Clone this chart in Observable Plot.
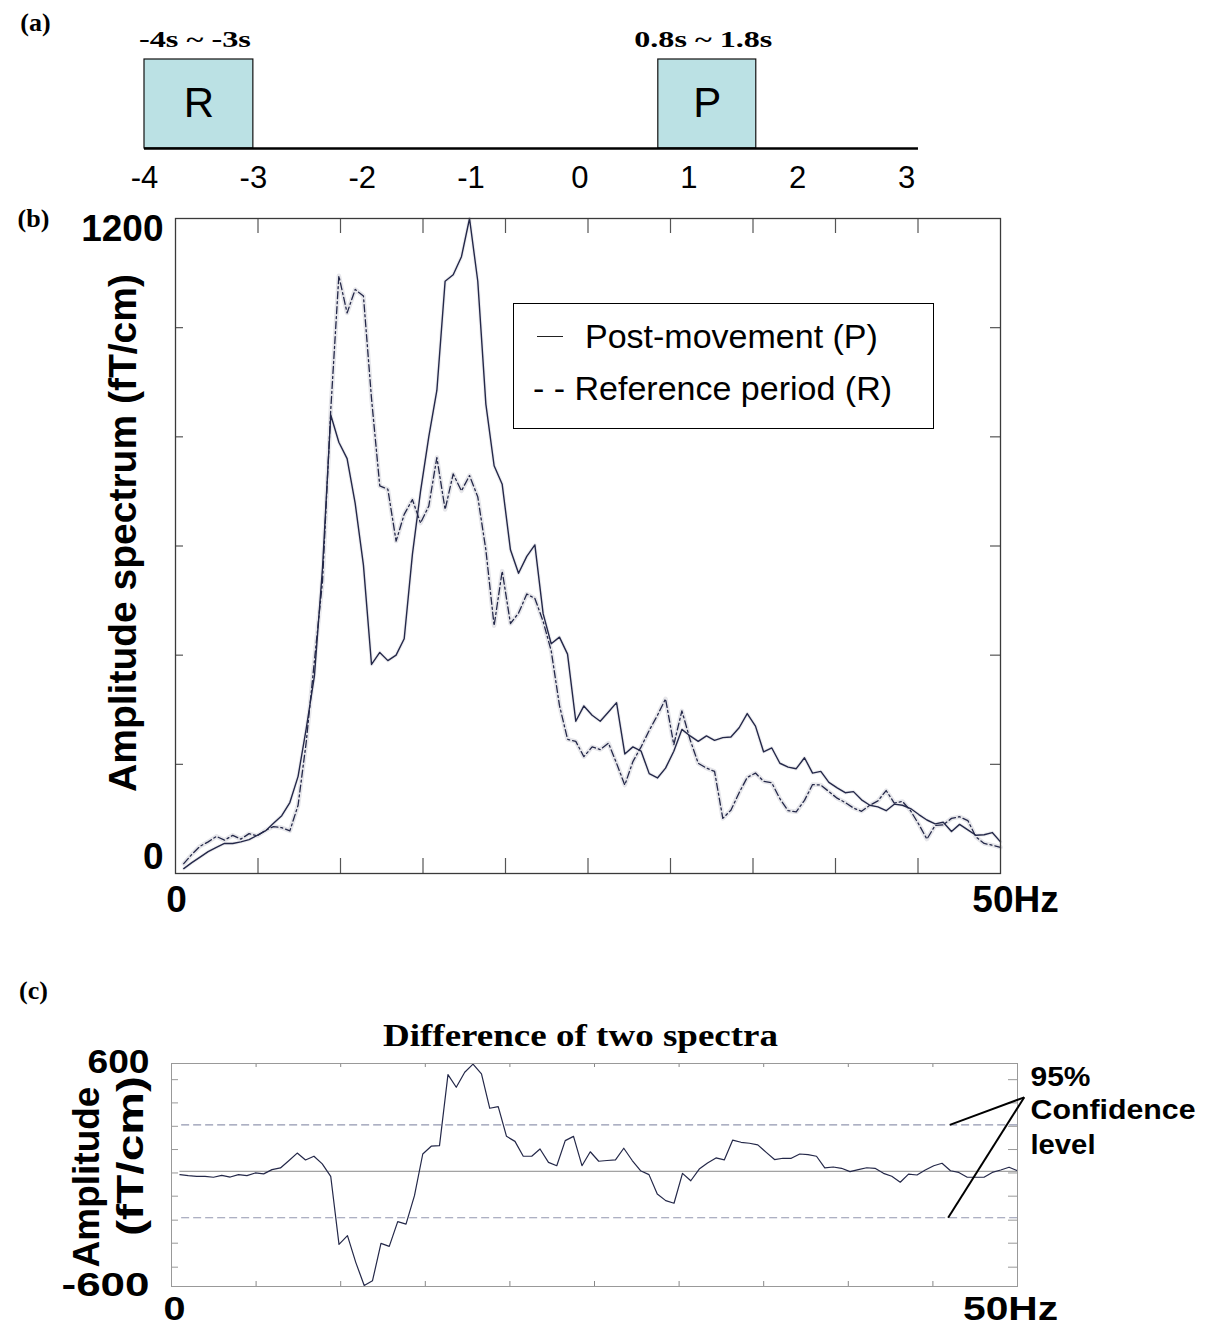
<!DOCTYPE html>
<html>
<head>
<meta charset="utf-8">
<script src="https://cdn.jsdelivr.net/npm/d3@7"></script>
<script src="https://cdn.jsdelivr.net/npm/@observablehq/plot@0.6"></script>
<style>
  body { margin: 0; background: #fff; }
  #fig { position: relative; width: 1205px; height: 1327px; overflow: hidden; background: #fff; }
  #fig svg { display: block; }
  #legend { position: absolute; left: 513px; top: 303px; width: 421px; height: 126px;
            border: 1.6px solid #000; box-sizing: border-box; background: #fff;
            font-family: 'Liberation Sans', Arial, sans-serif; font-size: 34px; color: #000; }
  #legend .row { position: absolute; white-space: nowrap; line-height: 34px; }
  #legend .swatch { position: absolute; height: 0; border-top: 1.3px solid #222; }
</style>
</head>
<body>
<div id="fig"></div>
<script>
// ---------- Panel (a): time windows ----------
const timeTicks = [-4, -3, -2, -1, 0, 1, 2, 3];
const timelineExtent = [-4, 3.11];
const periodNames = ["R", "P"];
const periodStart = [-4, 0.72];
const periodEnd = [-3, 1.62];
const periodLabels = ["-4s ~ -3s", "0.8s ~ 1.8s"];

// ---------- Panel (b): amplitude spectra ----------
const freq = [
  0.5, 0.99, 1.49, 1.98, 2.48, 2.97, 3.47, 3.96, 4.46, 4.95,
  5.45, 5.94, 6.44, 6.93, 7.43, 7.92, 8.42, 8.91, 9.41, 9.9,
  10.4, 10.89, 11.39, 11.88, 12.38, 12.87, 13.37, 13.86, 14.36, 14.85,
  15.35, 15.84, 16.34, 16.83, 17.33, 17.82, 18.32, 18.81, 19.31, 19.8,
  20.3, 20.79, 21.29, 21.78, 22.28, 22.77, 23.27, 23.76, 24.26, 24.75,
  25.25, 25.74, 26.24, 26.73, 27.23, 27.72, 28.22, 28.71, 29.21, 29.7,
  30.2, 30.69, 31.19, 31.68, 32.18, 32.67, 33.17, 33.66, 34.16, 34.65,
  35.15, 35.64, 36.14, 36.63, 37.13, 37.62, 38.12, 38.61, 39.11, 39.6,
  40.1, 40.59, 41.09, 41.58, 42.08, 42.57, 43.07, 43.56, 44.06, 44.55,
  45.05, 45.54, 46.04, 46.53, 47.03, 47.52, 48.02, 48.51, 49.01, 49.5,
  50.0
];
const postMovement = [
  9, 20, 30, 40, 48, 55, 55, 58, 62, 70,
  78, 92, 106, 130, 178, 265, 362, 560, 840, 790,
  760, 678, 565, 383, 405, 390, 400, 430, 585, 700,
  800, 885, 1085, 1097, 1130, 1200, 1085, 860, 747, 713,
  593, 550, 581, 602, 476, 421, 433, 402, 279, 307,
  290, 279, 296, 313, 219, 232, 224, 183, 175, 193,
  224, 264, 252, 242, 252, 244, 249, 250, 267, 293,
  270, 223, 230, 202, 195, 192, 212, 184, 187, 167,
  157, 148, 150, 135, 125, 122, 115, 127, 125, 119,
  108, 98, 91, 94, 77, 90, 80, 70, 71, 75,
  58
];
const referencePeriod = [
  18, 35, 50, 58, 68, 61, 70, 63, 73, 69,
  79, 86, 84, 78, 125, 240, 390, 535, 850, 1095,
  1027, 1070, 1058, 870, 710, 704, 609, 658, 685, 642,
  673, 762, 667, 732, 701, 729, 690, 593, 454, 554,
  458, 477, 512, 504, 462, 408, 308, 246, 242, 214,
  232, 227, 239, 202, 162, 205, 232, 262, 290, 320,
  236, 298, 245, 202, 193, 187, 101, 116, 148, 176,
  184, 169, 166, 137, 115, 113, 134, 163, 162, 150,
  138, 130, 120, 114, 125, 133, 152, 129, 132, 115,
  90, 63, 88, 89, 101, 104, 97, 67, 55, 52,
  48
];
const freqTicks = [5, 10, 15, 20, 25, 30, 35, 40, 45];
const specTicks = [200, 400, 600, 800, 1000];
const legendLabels = ["Post-movement (P)", "Reference period (R)"];

// ---------- Panel (c): difference ----------
const difference = [
  -18, -23, -27, -27, -32, -22, -31, -18, -23, -9,
  -14, 9, 18, 57, 98, 61, 81, 40, -27, -393,
  -346, -490, -615, -589, -388, -404, -271, -284, -131, 93,
  135, 138, 520, 452, 533, 577, 524, 339, 348, 188,
  161, 81, 81, 120, 48, 30, 165, 188, 30, 105,
  54, 58, 61, 124, 58, 3, -18, -122, -158, -172,
  -11, -51, 12, 45, 72, 61, 168, 156, 151, 142,
  102, 63, 70, 70, 93, 90, 81, 18, 23, 16,
  -2, 9, 19, 16, -11, -27, -59, -15, -20, 7,
  30, 43, 3, -6, -32, -32, -32, -6, 7, 22,
  3
];
const diffTicks = [-516, -387, -263, -134, -9, 117, 242, 368, 493];
const confidence = [250, -250];
const confidenceSpan = [0.6, 50];
const zeroSpan = [0.5, 50];
const diffEndValues = [580, -620];
const diffEndLabels = ["600", "-600"];
const confidenceLines = ["95%", "Confidence", "level"];
const pointerLinks = [
  {x1: 50.4, y1: 398, x2: 46.0, y2: 250},
  {x1: 50.4, y1: 398, x2: 45.9, y2: -250}
];

const SANS = "'Liberation Sans', Arial, Helvetica, sans-serif";
const SERIF = "'Liberation Serif', 'Times New Roman', Times, serif";
const INK = "#242849";
const BOLD = {fontWeight: "bold", fill: "#000"};

const fig = document.getElementById("fig");

// widen texts of a described mark to given widths (the source figure's type is stretched)
function stretch(svg, tag, widths) {
  d3.select(svg).selectAll(`g[aria-description="${tag}"] text`).each(function (_, i) {
    const w = Array.isArray(widths) ? widths[i] : widths;
    if (w) d3.select(this).attr("textLength", w).attr("lengthAdjust", "spacingAndGlyphs");
  });
}

// ===== (a) =====
const periods = periodNames.map((n, i) => ({name: n, start: periodStart[i], end: periodEnd[i],
  mid: (periodStart[i] + periodEnd[i]) / 2, lo: 0, hi: 1, label: periodLabels[i]}));

const plotA = Plot.plot({
  width: 1205, height: 205,
  marginLeft: 144, marginRight: 299, marginTop: 59, marginBottom: 57,
  x: {domain: [-4, 3], axis: null},
  y: {domain: [0, 1], axis: null},
  style: {background: "#fff"},
  marks: [
    Plot.rect(periods, {x1: "start", x2: "end", y1: "lo", y2: "hi", fill: "#bbe1e4", stroke: "#111", strokeWidth: 1.2}),
    Plot.ruleY([0], {x1: timelineExtent[0], x2: timelineExtent[1], stroke: "#000", strokeWidth: 2.5}),
    Plot.text(periods, {x: "mid", y: 0.5, text: "name", fontSize: 42, fontFamily: SANS, fill: "#000"}),
    Plot.text(periods, {x: "mid", y: "hi", text: "label", dy: -20, dx: -4, fontSize: 23, fontFamily: SERIF,
      ariaDescription: "period-range", ...BOLD}),
    Plot.text(timeTicks, {x: d => d, frameAnchor: "bottom", dy: 30, lineAnchor: "middle", textAnchor: "middle",
      text: d => String(d), fontSize: 31, fontFamily: SANS, fill: "#000"}),
    Plot.text(["(a)"], {frameAnchor: "top-left", dx: -109, dy: -37, textAnchor: "middle", lineAnchor: "middle",
      text: d => d, fontSize: 26, fontFamily: SERIF, ...BOLD})
  ]
});
stretch(plotA, "period-range", [112, 138]);
fig.appendChild(plotA);

// ===== (b) =====
const spec = freq.map((f, i) => ({f, P: postMovement[i], R: referencePeriod[i]}));
const plotB = Plot.plot({
  width: 1205, height: 725,
  marginLeft: 175, marginRight: 205, marginTop: 13, marginBottom: 57,
  x: {domain: [0, 50], axis: null},
  y: {domain: [0, 1200], axis: null},
  style: {background: "#fff"},
  marks: [
    Plot.ruleX(freqTicks, {insetBottom: 640, stroke: "#555", strokeWidth: 1.2}),
    Plot.ruleX(freqTicks, {insetTop: 640, stroke: "#555", strokeWidth: 1.2}),
    Plot.ruleY(specTicks, {insetRight: 817, stroke: "#555", strokeWidth: 1.2}),
    Plot.ruleY(specTicks, {insetLeft: 815, stroke: "#555", strokeWidth: 1.2}),
    Plot.line(spec, {x: "f", y: "R", stroke: "#e6e6ea", strokeWidth: 4.5}),
    Plot.line(spec, {x: "f", y: "P", stroke: "#eeeef1", strokeWidth: 3.5}),
    Plot.line(spec, {x: "f", y: "R", stroke: INK, strokeWidth: 1.3, strokeDasharray: "7,3,2,3"}),
    Plot.line(spec, {x: "f", y: "P", stroke: INK, strokeWidth: 1.4}),
    Plot.frame({stroke: "#3a3a3a", strokeWidth: 1.3}),
    Plot.text([1200], {y: d => d, frameAnchor: "left", dx: -12, dy: 11, textAnchor: "end", lineAnchor: "middle",
      text: d => String(d), fontSize: 37, fontFamily: SANS, ...BOLD}),
    Plot.text([0], {y: d => d, frameAnchor: "left", dx: -12, dy: -16, textAnchor: "end", lineAnchor: "middle",
      text: d => String(d), fontSize: 37, fontFamily: SANS, ...BOLD}),
    Plot.text([0], {x: d => d, frameAnchor: "bottom", dy: 27, dx: 1, textAnchor: "middle", lineAnchor: "middle",
      text: d => String(d), fontSize: 37, fontFamily: SANS, ...BOLD}),
    Plot.text([50], {x: d => d, frameAnchor: "bottom", dy: 27, dx: 15, textAnchor: "middle", lineAnchor: "middle",
      text: d => d + "Hz", fontSize: 37, fontFamily: SANS, ...BOLD}),
    Plot.text(["Amplitude spectrum (fT/cm)"], {frameAnchor: "left", rotate: -90, dx: -52, dy: -13,
      textAnchor: "middle", lineAnchor: "middle", text: d => d, fontSize: 39, fontFamily: SANS, ...BOLD}),
    Plot.text(["(b)"], {frameAnchor: "top-left", dx: -142, dy: 0, textAnchor: "middle", lineAnchor: "middle",
      text: d => d, fontSize: 26, fontFamily: SERIF, ...BOLD})
  ]
});
fig.appendChild(plotB);

// legend for (b)
const legend = document.createElement("div");
legend.id = "legend";
legend.innerHTML =
  `<div class="swatch" style="left:23px;top:32px;width:26px;"></div>` +
  `<div class="row" style="left:71px;top:15px;">${legendLabels[0]}</div>` +
  `<div class="row" style="left:19px;top:67px;">- - ${legendLabels[1]}</div>`;
fig.appendChild(legend);

// ===== (c) =====
const diffData = freq.map((f, i) => ({f, d: difference[i]}));
const endLabelData = diffEndValues.map((v, i) => ({v, label: diffEndLabels[i]}));
const plotC = Plot.plot({
  width: 1205, height: 397,
  marginLeft: 171, marginRight: 188, marginTop: 133, marginBottom: 41,
  x: {domain: [0, 50], axis: null},
  y: {domain: [-620, 580], axis: null},
  style: {background: "#fff", overflow: "visible"},
  marks: [
    Plot.ruleX(freqTicks, {insetBottom: 219, stroke: "#888"}),
    Plot.ruleX(freqTicks, {insetTop: 218, stroke: "#888"}),
    Plot.ruleY(diffTicks, {insetRight: 839, stroke: "#999"}),
    Plot.ruleY(diffTicks, {insetLeft: 837, stroke: "#999"}),
    Plot.ruleY([0], {x1: zeroSpan[0], x2: zeroSpan[1], stroke: "#8a8a8a", strokeWidth: 1}),
    Plot.ruleY(confidence, {x1: confidenceSpan[0], x2: confidenceSpan[1], stroke: "#9297b0", strokeWidth: 1.1, strokeDasharray: "8,4"}),
    Plot.line(diffData, {x: "f", y: "d", stroke: INK, strokeWidth: 1.2}),
    Plot.frame({stroke: "#999", strokeWidth: 1}),
    Plot.link(pointerLinks, {x1: "x1", y1: "y1", x2: "x2", y2: "y2", stroke: "#000", strokeWidth: 2, clip: false}),
    Plot.text(["Difference of two spectra"], {frameAnchor: "top", dx: -14, dy: -28, textAnchor: "middle", lineAnchor: "middle",
      text: d => d, fontSize: 32, fontFamily: SERIF, ariaDescription: "title-c", ...BOLD}),
    Plot.text(endLabelData, {y: "v", frameAnchor: "left", dx: -22, dy: -1, textAnchor: "end", lineAnchor: "middle",
      text: "label", fontSize: 33, fontFamily: SANS, ariaDescription: "end-labels-c", ...BOLD}),
    Plot.text([0], {x: d => d, frameAnchor: "bottom", dy: 23, dx: 3, textAnchor: "middle", lineAnchor: "middle",
      text: d => String(d), fontSize: 33, fontFamily: SANS, ariaDescription: "zero-c", ...BOLD}),
    Plot.text([50], {x: d => d, frameAnchor: "bottom", dy: 23, dx: -7, textAnchor: "middle", lineAnchor: "middle",
      text: d => d + "Hz", fontSize: 33, fontFamily: SANS, ariaDescription: "hz-c", ...BOLD}),
    Plot.text(["Amplitude"], {frameAnchor: "left", rotate: -90, dx: -84, dy: 2, textAnchor: "middle", lineAnchor: "middle",
      text: d => d, fontSize: 37, fontFamily: SANS, ...BOLD}),
    Plot.text(["(fT/cm)"], {frameAnchor: "left", rotate: -90, dx: -40, dy: -19, textAnchor: "middle", lineAnchor: "middle",
      text: d => d, fontSize: 37, fontFamily: SANS, ariaDescription: "unit-c", ...BOLD}),
    Plot.text(confidenceLines.slice(0, 1), {frameAnchor: "top-right", dx: 13, dy: 14, textAnchor: "start", lineAnchor: "middle",
      text: d => d, fontSize: 28, fontFamily: SANS, ariaDescription: "ci-1", ...BOLD}),
    Plot.text(confidenceLines.slice(1, 2), {frameAnchor: "top-right", dx: 13, dy: 47, textAnchor: "start", lineAnchor: "middle",
      text: d => d, fontSize: 28, fontFamily: SANS, ariaDescription: "ci-2", ...BOLD}),
    Plot.text(confidenceLines.slice(2, 3), {frameAnchor: "top-right", dx: 13, dy: 82, textAnchor: "start", lineAnchor: "middle",
      text: d => d, fontSize: 28, fontFamily: SANS, ariaDescription: "ci-3", ...BOLD}),
    Plot.text(["(c)"], {frameAnchor: "top-left", dx: -138, dy: -73, textAnchor: "middle", lineAnchor: "middle",
      text: d => d, fontSize: 26, fontFamily: SERIF, ...BOLD})
  ]
});
stretch(plotC, "title-c", 395);
stretch(plotC, "end-labels-c", [62, 88]);
stretch(plotC, "hz-c", 95);
stretch(plotC, "zero-c", 22);
stretch(plotC, "unit-c", 160);
stretch(plotC, "ci-1", 60);
stretch(plotC, "ci-2", 165);
stretch(plotC, "ci-3", 65);
fig.appendChild(plotC);
</script>
</body>
</html>
